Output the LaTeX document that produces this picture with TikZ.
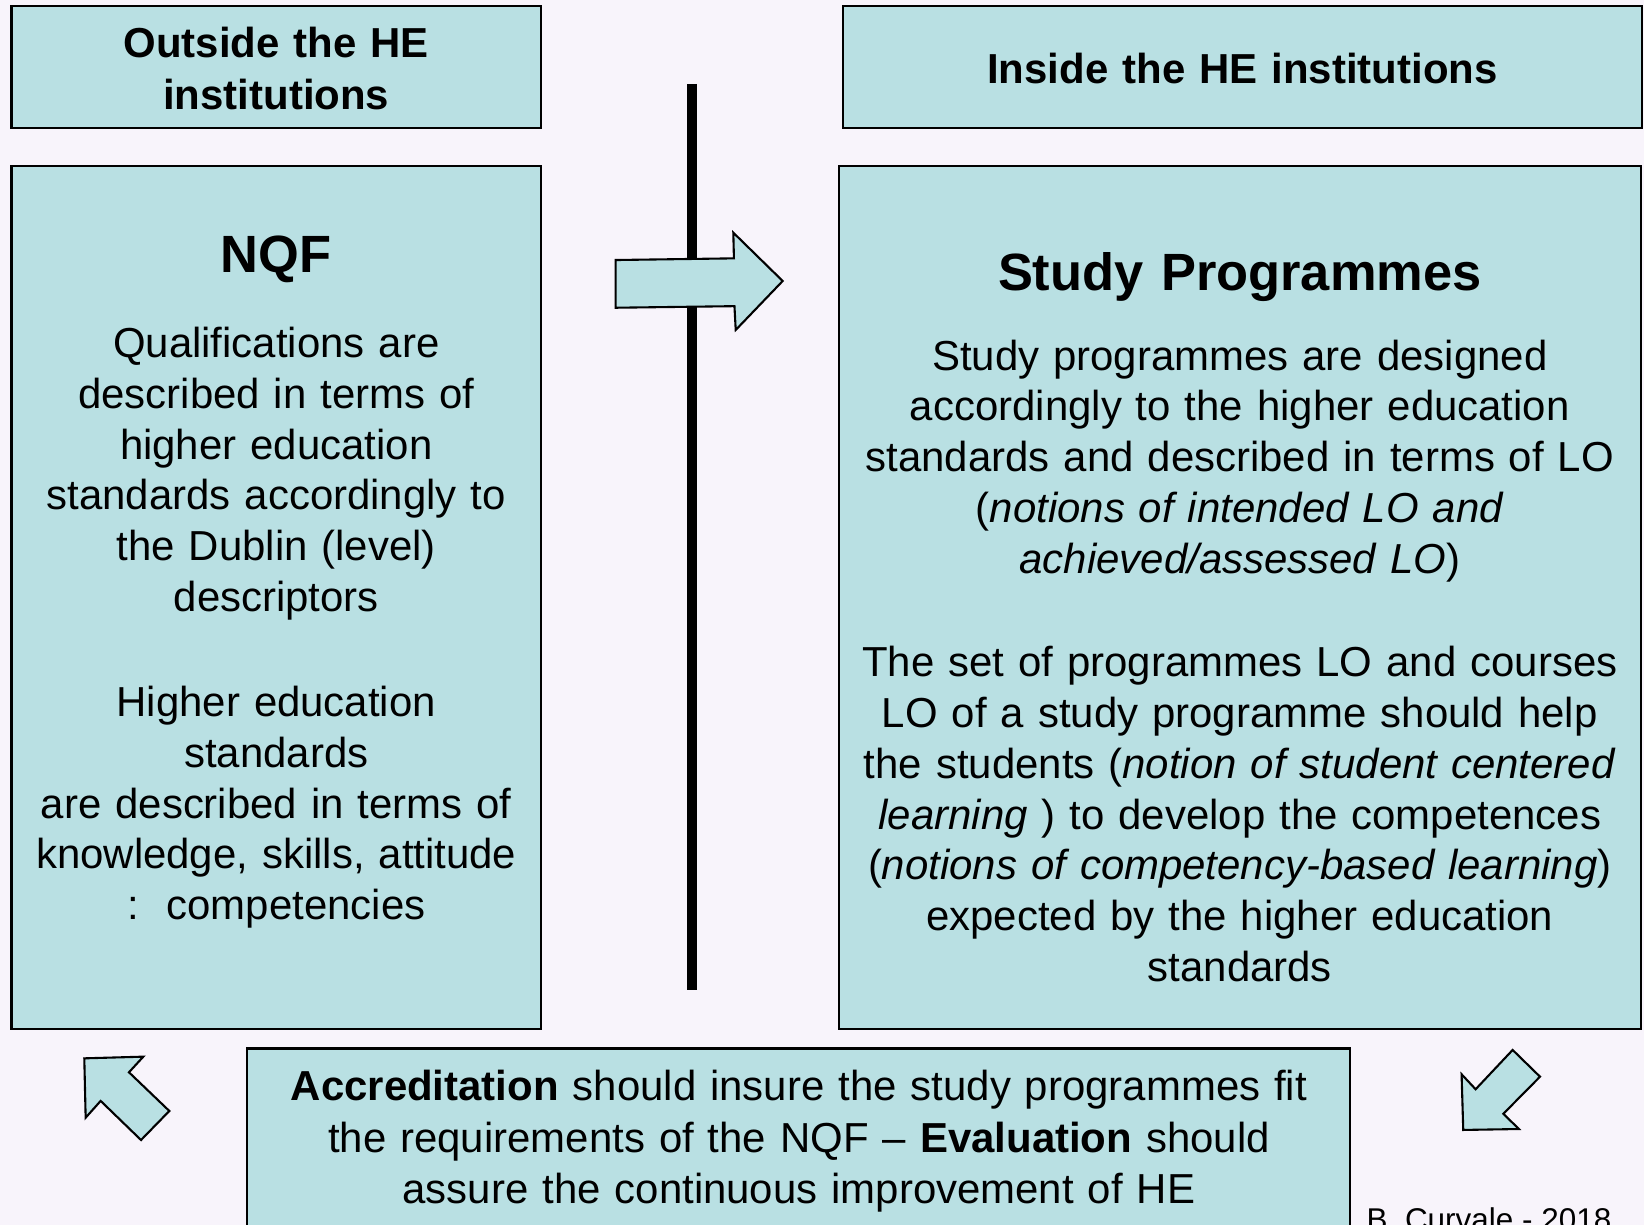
\documentclass[tikz,border=0pt]{standalone}
\usepackage{fontspec}
\setmainfont{Liberation Sans}
\definecolor{bgcol}{RGB}{248,244,251}
\definecolor{boxfill}{RGB}{185,224,227}
\tikzset{
  box/.style={draw=black, line width=1pt, fill=boxfill, inner sep=0pt, outer sep=0pt, anchor=north west},
  txt/.style={inner sep=0pt, outer sep=0pt, anchor=base, align=center, font=\fontsize{20}{24.2}\selectfont},
  hdr/.style={inner sep=0pt, outer sep=0pt, anchor=base, align=center, font=\bfseries\fontsize{20}{24.5}\selectfont},
  ttl/.style={inner sep=0pt, outer sep=0pt, anchor=base, align=center, font=\bfseries\fontsize{25}{30}\selectfont},
  blockarrow/.style={draw=black, line width=1pt, fill=boxfill, line join=miter}
}
\begin{document}
\begin{tikzpicture}[x=0.5pt, y=-0.5pt]
\useasboundingbox (0,0) rectangle (1568,1168);
\fill[bgcol] (0,0) rectangle (1568,1168);
\clip (0,0) rectangle (1568,1168);

% header boxes
\node[box, minimum width=252.5pt, minimum height=58pt] (outside) at (11,6) {};
\node[hdr, text width=250pt] (outsideT) at (263.5,55) {Outside the HE\\institutions};
\node[box, minimum width=381pt, minimum height=58pt] (inside) at (804,6) {};
\node[hdr, text width=378pt] (insideT) at (1185,80) {Inside the HE institutions};

% NQF box
\node[box, minimum width=252.5pt, minimum height=411.5pt] (nqf) at (11,158) {};
\node[ttl, text width=250pt] (nqfT) at (263.5,259.7) {NQF};
\node[txt, text width=250pt] (nqfA) at (263.5,341.1) {Qualifications are\\described in terms of\\higher education\\standards accordingly to\\the Dublin (level)\\descriptors};
\node[txt, text width=250pt] (nqfB) at (263.5,683.5) {Higher education\\standards\\are described in terms of\\knowledge, skills, attitude\\:\ \ competencies};

% Study programmes box
\node[box, minimum width=382.5pt, minimum height=411.5pt] (sp) at (800,158) {};
\node[ttl, text width=380pt] (spT) at (1182.5,277.5) {Study Programmes};
\node[txt, text width=380pt] (spA) at (1182.5,353) {Study programmes are designed\\accordingly to the higher education\\standards and described in terms of LO\\(\textit{notions of intended LO and}\\\textit{achieved/assessed LO})};
\node[txt, text width=380pt] (spB) at (1182.5,645.5) {The set of programmes LO and courses\\LO of a study programme should help\\the students (\textit{notion of student centered}\\\textit{learning} ) to develop the competences\\(\textit{notions of competency-based learning})\\expected by the higher education\\standards};

% bottom box
\node[box, minimum width=526pt, minimum height=100pt] (acc) at (236,1000) {};
\node[hdr, font=\fontsize{20}{24.5}\selectfont, text width=520pt] (accT) at (762,1050) {\textbf{Accreditation} should insure the study programmes fit\\the requirements of the NQF -- \textbf{Evaluation} should\\assure the continuous improvement of HE};

% credit
\node[inner sep=0pt, anchor=base west, font=\fontsize{15}{18}\selectfont] (credit) at (1303,1173.5) {B. Curvale - 2018};

% vertical divider
\coordinate (vtop) at (660,80);
\coordinate (vbot) at (660,944);
\draw[line width=5pt] (vtop) -- (vbot);

% right block arrow
\draw[blockarrow] (587.2,248) -- (700,246.4) -- (699.4,221.9) -- (746.5,268) -- (701.7,314.7) -- (700.5,292) -- (587.2,293.5) -- cycle;

% up-left block arrow
\draw[blockarrow] (80.4,1009.4) -- (136.7,1007.8) -- (123,1022.7) -- (161.5,1059.6) -- (134.5,1087.3) -- (96,1050) -- (81.7,1066) -- cycle;

% down-left block arrow
\draw[blockarrow] (1442.7,1001.4) -- (1468.8,1026.9) -- (1433.8,1062.3) -- (1448.7,1076.8) -- (1395.6,1077.7) -- (1394,1024.6) -- (1407.4,1038.9) -- cycle;
\end{tikzpicture}
\end{document}
